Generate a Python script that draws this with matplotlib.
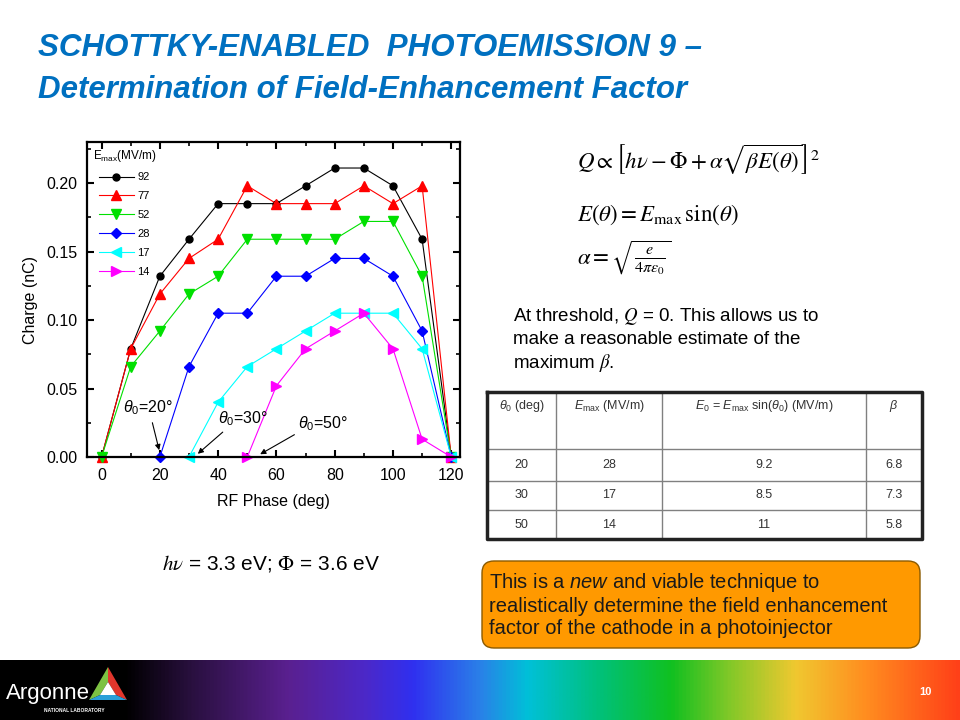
import numpy as np
import matplotlib.pyplot as plt
from matplotlib.colors import LinearSegmentedColormap
from matplotlib.patches import FancyBboxPatch, Polygon

plt.rcParams['font.family'] = ['Liberation Sans', 'DejaVu Sans']
plt.rcParams['mathtext.fontset'] = 'custom'
plt.rcParams['mathtext.rm'] = 'Liberation Sans'
plt.rcParams['mathtext.it'] = 'Liberation Sans:italic'
plt.rcParams['mathtext.bf'] = 'Liberation Sans:bold'

# charge vs RF phase, one curve per Emax (MV/m)
phase = np.arange(0, 130, 10)
q92 = [0, 0.079, 0.132, 0.159, 0.185, 0.185, 0.185, 0.198, 0.211, 0.211, 0.198, 0.159, 0]
q77 = [0, 0.079, 0.119, 0.145, 0.159, 0.198, 0.185, 0.185, 0.185, 0.198, 0.185, 0.198, 0]
q52 = [0, 0.066, 0.092, 0.119, 0.132, 0.159, 0.159, 0.159, 0.159, 0.172, 0.172, 0.132, 0]
q28 = [0, 0.066, 0.105, 0.105, 0.132, 0.132, 0.145, 0.145, 0.132, 0.092, 0]
q17 = [0, 0.040, 0.066, 0.079, 0.092, 0.105, 0.105, 0.105, 0.079, 0]
q14 = [0, 0.052, 0.079, 0.092, 0.105, 0.079, 0.013, 0]
emax_labels = ['92', '77', '52', '28', '17', '14']

# threshold table
tab_header = [r'$\theta_0$ (deg)', r'$E_{\rm max}$ (MV/m)',
              r'$E_0$ = $E_{\rm max}$ sin($\theta_0$) (MV/m)', r'$\beta$']
tab_theta0 = ['20', '30', '50']
tab_emax = ['28', '17', '14']
tab_e0 = ['9.2', '8.5', '11']
tab_beta = ['6.8', '7.3', '5.8']

fig = plt.figure(figsize=(9.6, 7.2), dpi=100)

# slide overlay in pixel coordinates
ov = fig.add_axes([0, 0, 1, 1])
ov.set_xlim(0, 960)
ov.set_ylim(720, 0)
ov.axis('off')

title_col = '#0070C0'
ov.text(38, 48, 'SCHOTTKY-ENABLED  PHOTOEMISSION 9 \u2013', fontsize=22.5, fontweight='bold',
        fontstyle='italic', color=title_col, va='center', ha='left')
ov.text(38, 90, 'Determination of Field-Enhancement Factor', fontsize=22.5, fontweight='bold',
        fontstyle='italic', color=title_col, va='center', ha='left')

# equations
ov.text(577, 160, r'$Q \propto \left[h\nu - \Phi + \alpha\sqrt{\beta E(\theta)}\right]^2$',
        fontsize=16.5, math_fontfamily='stix', va='center')
ov.text(577, 215, r'$E(\theta) = E_{\max}\,\sin(\theta)$', fontsize=16.5,
        math_fontfamily='stix', va='center')
ov.text(577, 258, r'$\alpha = \sqrt{\frac{e}{4\pi\varepsilon_0}}$', fontsize=16.5,
        math_fontfamily='stix', va='center')

ov.text(513, 340, 'At threshold, $Q$ = 0. This allows us to\nmake a reasonable estimate of the\n'
        r'maximum $\beta$.', fontsize=13.5, math_fontfamily='stix', va='center',
        linespacing=1.3)

ov.text(162, 563, r'$h\nu$ = 3.3 eV; $\Phi$ = 3.6 eV', fontsize=15, math_fontfamily='stix',
        va='center')

# table
cols_x = [487, 556, 662, 866, 922]
rows_y = [392, 449, 481, 510, 539]
for x in cols_x[1:-1]:
    ov.plot([x, x], [rows_y[0], rows_y[-1]], color='#808080', lw=1)
for y in rows_y[1:-1]:
    ov.plot([cols_x[0], cols_x[-1]], [y, y], color='#808080', lw=1)
ov.plot([cols_x[0], cols_x[-1], cols_x[-1], cols_x[0], cols_x[0]],
        [rows_y[0], rows_y[0], rows_y[-1], rows_y[-1], rows_y[0]], color='#222222', lw=2.5)
for j, h in enumerate(tab_header):
    ov.text((cols_x[j] + cols_x[j + 1]) / 2, 406, h, fontsize=9, ha='center', va='center',
            color='#333333')
for i, row in enumerate(zip(tab_theta0, tab_emax, tab_e0, tab_beta)):
    yc = (rows_y[i + 1] + rows_y[i + 2]) / 2
    for j, v in enumerate(row):
        ov.text((cols_x[j] + cols_x[j + 1]) / 2, yc, v, fontsize=9, ha='center',
                va='center', color='#333333')

# orange note box
box = FancyBboxPatch((482, 561), 438, 87, boxstyle='round,pad=0,rounding_size=12',
                     fc='#FF9900', ec='#8B5A00', lw=1)
ov.add_patch(box)
ov.text(489, 605, 'This is a $new$ and viable technique to\n'
        'realistically determine the field enhancement\n'
        'factor of the cathode in a photoinjector', fontsize=14.5, va='center',
        color='#1a1a1a', linespacing=1.2)

# bottom banner
stops = [(0.0, '#000000'), (0.13, '#000000'), (0.2, '#2a1040'), (0.3, '#5a2090'),
         (0.38, '#4c28c8'), (0.43, '#3030f0'), (0.5, '#2a80e8'), (0.55, '#00c0d8'),
         (0.62, '#00c080'), (0.7, '#10c020'), (0.76, '#80c828'), (0.83, '#f0c830'),
         (0.9, '#ff9020'), (1.0, '#ff4018')]
banner = LinearSegmentedColormap.from_list('banner', stops)
ov.imshow(np.linspace(0, 1, 512)[None, :], cmap=banner, aspect='auto',
          extent=[0, 960, 720, 660], zorder=1)
ov.set_xlim(0, 960)
ov.set_ylim(720, 0)
ov.text(6, 694, 'Argonne', fontsize=16, color='white', va='center', ha='left', zorder=3)
ov.text(44, 710, 'NATIONAL LABORATORY', fontsize=3.5, color='white', fontweight='bold',
        va='center', ha='left', zorder=3)
A, Bl, Br = (108, 667), (89, 700), (127, 700)
a, b, c = (108, 682), (100, 695), (116, 695)
ov.add_patch(Polygon([A, a, b, Bl], fc='#7dc242', ec='none', zorder=3))
ov.add_patch(Polygon([A, Br, c, a], fc='#e0362c', ec='none', zorder=3))
ov.add_patch(Polygon([Bl, b, c, Br], fc='#2a9fd8', ec='none', zorder=3))
ov.add_patch(Polygon([a, b, c], fc='white', ec='none', zorder=3))
ov.text(925, 692, '10', fontsize=8, color='white', fontweight='bold', va='center',
        ha='center', zorder=3)

# chart
ax = fig.add_axes([87 / 960, (720 - 457) / 720, (460 - 87) / 960, (457 - 142) / 720])
series = [(phase, q92, 'black', 'o', 5),
          (phase, q77, '#ff0000', '^', 6.5),
          (phase, q52, '#00e000', 'v', 6.5),
          (phase[2:], q28, '#0000ff', 'D', 5),
          (phase[3:], q17, '#00ffff', '<', 6.5),
          (phase[5:], q14, '#ff00ff', '>', 6.5)]
for (x, y, col, mk, ms), lab in zip(series, emax_labels):
    ax.plot(x, y, color=col, marker=mk, ms=ms, lw=0.8, label=lab, clip_on=False)

ax.set_xlim(-5, 123)
ax.set_ylim(0, 0.23)
ax.set_xticks(np.arange(0, 121, 20))
ax.set_xticks(np.arange(0, 121, 10), minor=True)
ax.set_yticks(np.arange(0, 0.201, 0.05))
ax.set_yticks(np.arange(0, 0.226, 0.025), minor=True)
ax.yaxis.set_major_formatter(plt.FormatStrFormatter('%.2f'))
ax.tick_params(which='both', direction='in', top=True, right=True, labelsize=11.5)
ax.tick_params(axis='x', pad=8)
ax.tick_params(axis='y', pad=7)
ax.tick_params(which='major', length=5, width=1.5)
ax.tick_params(which='minor', length=3, width=1.2)
for s in ax.spines.values():
    s.set_linewidth(1.6)
ax.set_xlabel('RF Phase (deg)', fontsize=11.5, labelpad=8)
ax.set_ylabel('Charge (nC)', fontsize=11.5, labelpad=6)

leg = ax.legend(title=r'E$_{\rm max}$(MV/m)', loc='upper left', bbox_to_anchor=(0.0, 1.0),
                frameon=False, fontsize=8, title_fontsize=8.5, handlelength=3.2,
                handletextpad=0.3, labelspacing=0.8, borderaxespad=0.3, borderpad=0.2)

# threshold annotations
ax.text(7.3, 0.036, r'$\theta_0$=20°', fontsize=11.5, va='center')
ax.annotate('', xy=(20, 0.003), xytext=(17.2, 0.027),
            arrowprops=dict(arrowstyle='-|>', color='black', lw=0.8, mutation_scale=8))
ax.text(40, 0.028, r'$\theta_0$=30°', fontsize=11.5, va='center')
ax.annotate('', xy=(32.3, 0.001), xytext=(42.3, 0.0195),
            arrowprops=dict(arrowstyle='-|>', color='black', lw=0.8, mutation_scale=8))
ax.text(67.3, 0.024, r'$\theta_0$=50°', fontsize=11.5, va='center')
ax.annotate('', xy=(53.6, 0.001), xytext=(67, 0.0173),
            arrowprops=dict(arrowstyle='-|>', color='black', lw=0.8, mutation_scale=8))

fig.savefig('out.png', dpi=100)
